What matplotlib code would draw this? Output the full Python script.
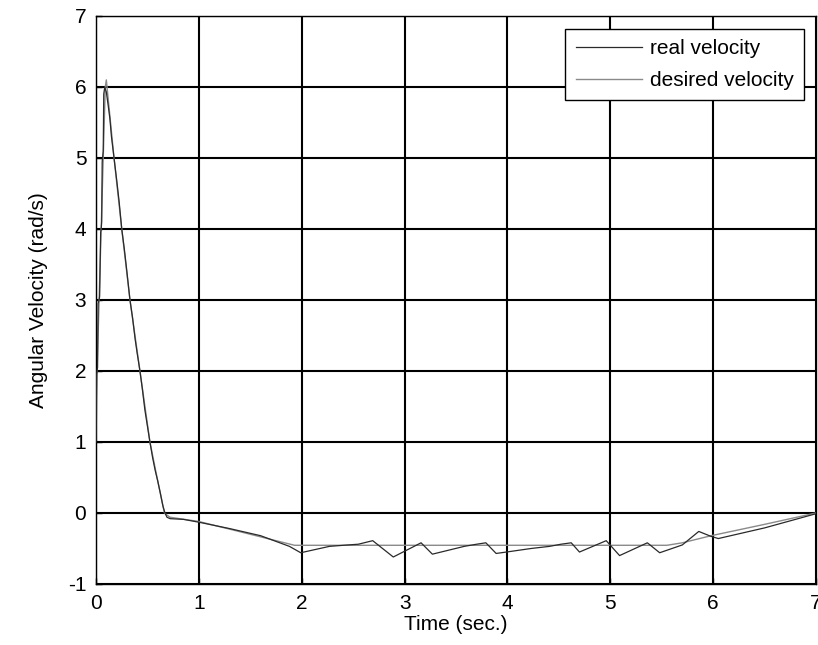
import matplotlib
matplotlib.use("Agg")
import matplotlib.pyplot as plt

# real velocity (dark trace)
t_real = [0.0, 0.005, 0.01, 0.015, 0.02, 0.03, 0.035, 0.045, 0.05, 0.055,
          0.06, 0.07, 0.075, 0.085, 0.095, 0.10, 0.12, 0.135, 0.15, 0.175,
          0.20, 0.225, 0.25, 0.275, 0.30, 0.33, 0.355, 0.38, 0.40, 0.427,
          0.45, 0.475, 0.50, 0.524, 0.55, 0.575, 0.60, 0.625, 0.65, 0.67,
          0.69, 0.72, 0.85, 1.0, 1.3, 1.6, 1.88, 1.99, 2.27, 2.45, 2.55,
          2.69, 2.89, 3.16, 3.27, 3.58, 3.70, 3.79, 3.89, 3.99, 4.23, 4.41,
          4.52, 4.62, 4.70, 4.96, 5.09, 5.36, 5.48, 5.70, 5.86, 5.98, 6.05,
          6.5, 7.0]
v_real = [1.0, 1.95, 2.0, 2.05, 2.95, 3.0, 3.05, 3.95, 4.0, 4.1,
          4.95, 5.1, 5.9, 6.0, 5.95, 5.93, 5.72, 5.55, 5.30, 5.0,
          4.70, 4.38, 4.0, 3.72, 3.40, 3.0, 2.75, 2.45, 2.25, 2.0,
          1.75, 1.45, 1.22, 1.0, 0.78, 0.60, 0.45, 0.28, 0.10, 0.0,
          -0.06, -0.08, -0.09, -0.13, -0.22, -0.32, -0.47, -0.56, -0.47, -0.45, -0.44,
          -0.39, -0.62, -0.42, -0.58, -0.47, -0.44, -0.42, -0.57, -0.55, -0.50, -0.47,
          -0.44, -0.42, -0.55, -0.39, -0.60, -0.42, -0.56, -0.45, -0.26, -0.33, -0.36,
          -0.21, -0.01]

# desired velocity (light trace)
t_des = [0.0, 0.01, 0.03, 0.05, 0.07, 0.09, 0.10, 0.175, 0.25, 0.33,
         0.427, 0.524, 0.60, 0.665, 0.69, 0.72, 1.0, 1.93, 5.55, 5.7,
         5.98, 6.5, 7.0]
v_des = [1.0, 2.0, 3.0, 4.0, 5.0, 6.0, 6.1, 5.0, 4.0, 3.0,
         2.0, 1.0, 0.45, 0.0, -0.03, -0.06, -0.12, -0.455, -0.455, -0.42,
         -0.32, -0.16, 0.0]

x_ticks = [0, 1, 2, 3, 4, 5, 6, 7]
y_ticks = [-1, 0, 1, 2, 3, 4, 5, 6, 7]

plt.rcParams["font.family"] = "Liberation Sans"
plt.rcParams["font.size"] = 15
plt.rcParams["axes.unicode_minus"] = False

fig = plt.figure(figsize=(8.18, 6.45), dpi=100)
ax = fig.add_axes([0.1174, 0.0946, 0.8802, 0.8806])

ax.plot(t_real, v_real, color="#2a2a2a", lw=0.9, label="real velocity", zorder=3)
ax.plot(t_des, v_des, color="#8a8a8a", lw=1.0, label="desired velocity", zorder=2)

ax.set_xlim(0, 7)
ax.set_ylim(-1, 7)
ax.set_xticks(x_ticks)
ax.set_yticks(y_ticks)
ax.grid(True, color="black", lw=1.5)
ax.set_axisbelow(True)
for s in ax.spines.values():
    s.set_linewidth(1.0)
ax.tick_params(direction="in", length=4, width=1, pad=7, labelsize=15)

ax.set_xlabel("Time (sec.)", fontsize=15, labelpad=2)
ax.set_ylabel("Angular Velocity (rad/s)", fontsize=15, labelpad=14)

leg = ax.legend(loc="upper right", bbox_to_anchor=(0.983, 0.977), borderaxespad=0,
                fancybox=False, framealpha=1, edgecolor="black",
                handlelength=3.2, handletextpad=0.35, labelspacing=0.6,
                borderpad=0.5, fontsize=15)
leg.get_frame().set_linewidth(1.0)

fig.savefig("out.png", dpi=100)
